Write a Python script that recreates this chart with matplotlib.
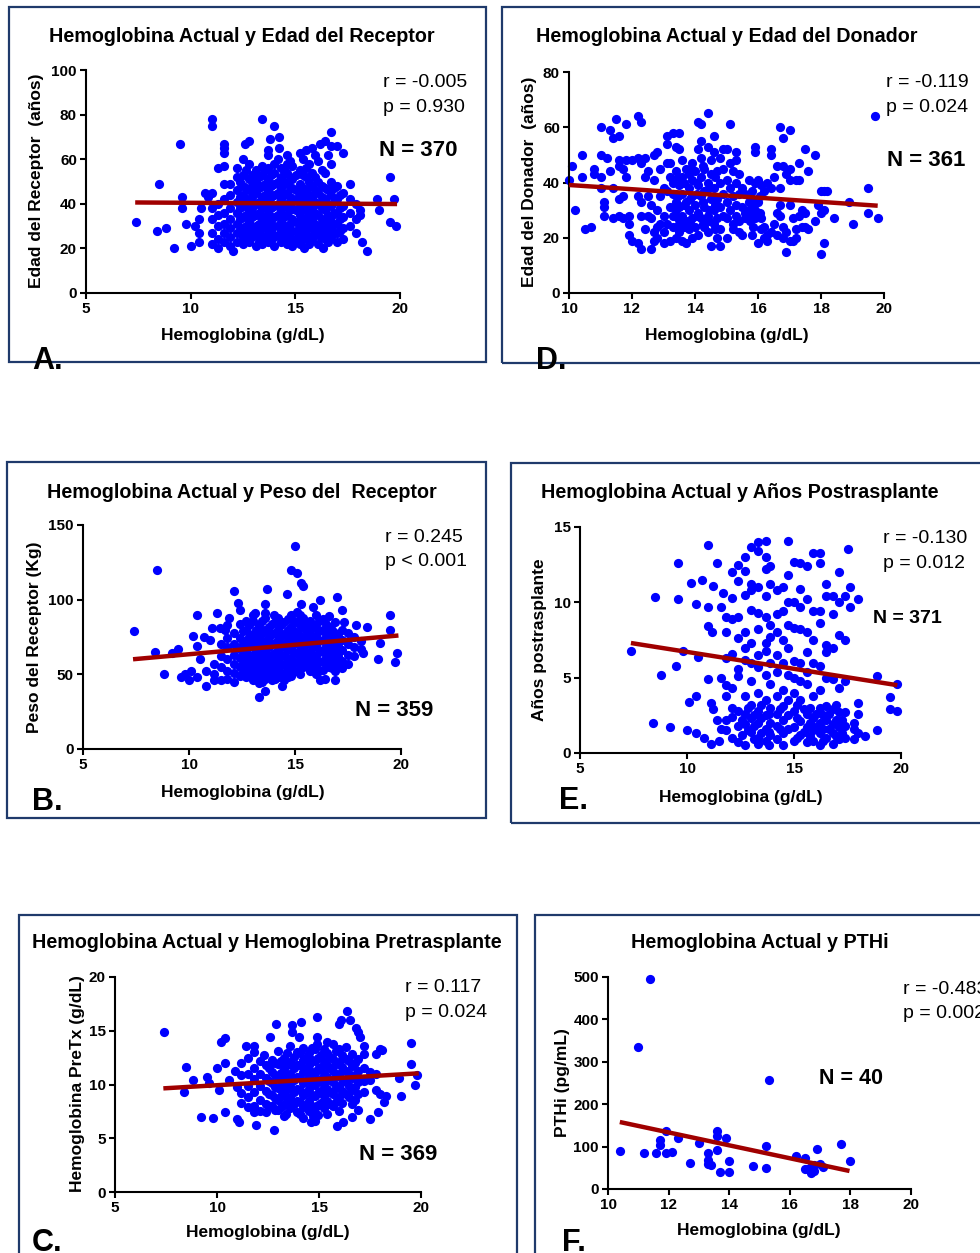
import matplotlib
matplotlib.use("Agg")
import matplotlib.pyplot as plt
from matplotlib.patches import Rectangle

# ---------------- DATA ----------------
# Panel A: Hemoglobina vs Edad del Receptor  (x: [y values])
edad_receptor_cols = {
    7.4: [32], 8.4: [28], 8.5: [49], 8.8: [29], 9.2: [20], 9.5: [67], 9.6: [43, 38],
    9.8: [31], 10.0: [21], 10.2: [30], 10.4: [33, 27, 23], 10.5: [38], 10.7: [45],
    10.85: [43], 11.0: [78, 75, 45, 38, 33, 27, 22], 11.3: [56, 40, 35, 30, 24, 20],
    11.6: [67, 65, 63, 57, 49, 42, 36, 31, 27, 23], 11.9: [49, 44, 38, 33, 29, 25, 21],
    12.0: [19], 12.2: [56, 52, 46, 41, 36, 31, 27, 23],
    12.5: [60, 53, 48, 44, 39, 34, 29, 25, 22], 12.6: [67],
    12.8: [68, 58, 51, 46, 42, 37, 32, 28, 23], 13.1: [55, 50, 45, 40, 35, 30, 26, 21],
    13.4: [78, 57, 53, 48, 43, 38, 33, 29, 25, 22],
    13.7: [64, 62, 56, 51, 46, 41, 36, 31, 27, 23], 13.8: [69],
    14.0: [75, 58, 54, 49, 44, 39, 34, 30, 25, 21], 14.2: [70, 65],
    14.3: [56, 52, 47, 42, 37, 32, 28, 23],
    14.6: [62, 58, 54, 49, 45, 40, 35, 30, 26, 22],
    14.85: [57, 51, 47, 42, 38, 33, 28, 24, 21],
    15.2: [63, 55, 49, 44, 40, 35, 30, 26, 22], 15.4: [20],
    15.5: [64, 56, 52, 46, 41, 37, 32, 27], 15.8: [65, 54, 48, 43, 38, 33, 29, 24],
    16.1: [59, 50, 45, 40, 35, 30, 26, 22], 16.2: [67], 16.3: [20],
    16.4: [68, 54, 47, 42, 37, 32, 28, 24], 16.7: [72, 66, 58, 50, 44, 39, 34, 29, 25],
    17.0: [66, 48, 42, 36, 31, 27, 23], 17.3: [63, 45, 39, 34, 29, 24],
    17.6: [49, 42, 36, 30], 17.9: [40, 33, 27], 18.1: [37, 35], 18.2: [23], 18.4: [19],
    18.9: [42], 19.0: [37], 19.5: [52, 32], 19.7: [42], 19.8: [30],
    # denser core
    12.35: [50, 43, 38, 33, 28], 12.65: [55, 47, 41, 35, 30, 26],
    12.95: [53, 48, 43, 38, 34, 29, 25], 13.25: [52, 47, 41, 36, 31, 27, 23],
    13.55: [55, 49, 44, 39, 34, 30, 25], 13.85: [53, 48, 43, 38, 33, 28, 24],
    14.15: [60, 50, 45, 40, 35, 30, 26], 14.45: [55, 50, 44, 39, 34, 29, 25],
    14.75: [59, 52, 43, 37, 31, 27, 23], 15.05: [53, 46, 42, 37, 32, 28, 24],
    15.35: [60, 53, 47, 43, 38, 33, 29, 24], 15.65: [58, 50, 44, 39, 35, 30, 25, 22],
    15.95: [62, 52, 46, 41, 36, 31, 27], 16.25: [55, 48, 43, 38, 33, 29, 25],
    16.55: [62, 46, 40, 35, 31, 27, 23], 16.85: [47, 41, 36, 31, 27],
    17.15: [44, 38, 33, 28],
}
fit_a_x = [7.35, 19.86]
fit_a_y = [40.6, 39.9]

# Panel D: Hemoglobina vs Edad del Donador
edad_donador_cols = {
    10.0: [41], 10.1: [46], 10.2: [30], 10.4: [50, 42], 10.5: [23], 10.7: [24],
    10.8: [45, 43], 11.0: [60, 50, 42, 38], 11.1: [28, 33, 31], 11.2: [49],
    11.3: [59, 44], 11.4: [56, 38, 27], 11.5: [63], 11.6: [57, 48, 46, 34, 28],
    11.7: [35, 27, 45], 11.8: [61, 48, 42], 11.9: [28, 25, 21], 12.0: [48, 19],
    12.2: [64, 49, 35, 18], 12.3: [62, 47, 28, 16, 33], 12.4: [49, 23, 42],
    12.5: [44, 35, 28], 12.6: [32, 16, 27], 12.7: [50, 41, 19, 22],
    12.8: [51, 20, 30, 24], 12.9: [45, 35, 25], 13.0: [28, 38, 22, 18],
    13.1: [54, 57, 37, 25, 47], 13.2: [47, 31, 42, 19], 13.3: [58, 40, 36, 24, 28],
    13.4: [53, 44, 30, 20, 33], 13.5: [58, 52, 39, 31, 25, 22],
    13.6: [48, 42, 36, 28, 19], 13.7: [45, 33, 26, 18], 13.8: [43, 38, 30, 23],
    13.9: [47, 41, 35, 27, 20], 14.0: [44, 32, 24], 14.1: [62, 52, 39, 29, 21],
    14.2: [61, 55, 49, 42, 35, 27], 14.3: [45, 37, 31, 24], 14.4: [65, 53, 40, 28, 22],
    14.5: [48, 43, 34, 17], 14.6: [57, 51, 38, 30, 25], 14.7: [44, 34, 27, 20],
    14.8: [49, 40, 31, 23, 17], 14.9: [52, 45, 36, 28], 15.0: [52, 41, 33, 27, 20],
    15.1: [61, 47, 38, 30], 15.2: [44, 35, 25, 23], 15.3: [51, 48, 40, 32, 28],
    15.4: [43, 36, 26, 22], 15.5: [38, 31, 21], 15.6: [36, 29, 27], 15.7: [41, 33, 30],
    15.8: [37, 34, 28, 21], 15.9: [53, 51, 40, 30, 27], 16.0: [41, 33, 18],
    16.1: [39, 27, 23], 16.2: [37, 24, 20], 16.3: [40, 21, 19], 16.4: [52, 50, 38, 22],
    16.5: [42, 25], 16.6: [46, 29, 21], 16.7: [60, 38, 32, 28], 16.8: [56, 46, 24, 20],
    16.9: [43, 22, 15], 17.0: [59, 45, 41, 19, 32], 17.1: [27, 19], 17.2: [41, 23, 20],
    17.3: [47, 41, 28], 17.4: [30, 24], 17.5: [52, 29, 24], 17.6: [44, 23],
    17.8: [50, 26], 17.9: [32], 18.0: [37, 29, 14], 18.1: [37, 30, 18], 18.2: [37],
    18.4: [27], 18.9: [33], 19.0: [25], 19.5: [38, 29], 19.7: [64], 19.8: [27],
    # denser clusters
    13.45: [42, 35, 27], 13.65: [40, 32, 24], 13.85: [45, 34, 26], 14.05: [40, 28, 36],
    14.25: [46, 33, 25], 14.45: [38, 30, 26], 14.65: [42, 32, 23], 15.75: [35, 26],
    15.85: [31, 24], 16.05: [35, 29],
}
fit_d_x = [10.0, 19.8]
fit_d_y = [39.1, 31.6]

# Panel B: Hemoglobina vs Peso del Receptor
peso_cols = {
    7.4: [79], 8.4: [65], 8.5: [120], 8.8: [50], 9.2: [64], 9.5: [67], 9.6: [48],
    9.8: [50], 10.0: [46], 10.1: [52], 10.2: [76], 10.4: [90, 69, 48], 10.5: [60],
    10.7: [75], 10.8: [52, 42], 11.0: [73], 11.1: [81], 11.2: [57, 50, 46], 11.3: [91],
    11.45: [81], 11.5: [70, 62, 55, 46], 11.7: [80], 11.8: [83, 74, 68, 60, 52, 47],
    11.9: [88], 12.1: [106, 78, 70, 63, 57, 51, 45], 12.3: [98],
    12.4: [93, 84, 74, 67, 61, 55, 49], 12.7: [86, 80, 72, 65, 59, 53, 48],
    13.0: [90, 86, 77, 70, 63, 57, 51, 46], 13.1: [91],
    13.3: [83, 75, 68, 61, 55, 49, 44, 35],
    13.6: [97, 91, 88, 80, 72, 65, 59, 53, 47, 39], 13.7: [107],
    13.9: [84, 77, 70, 63, 57, 51, 46], 14.0: [90], 14.2: [88, 80, 73, 66, 60, 54, 48],
    14.4: [42], 14.5: [85, 77, 70, 63, 57, 51, 46], 14.6: [104],
    14.8: [120, 90, 82, 75, 68, 61, 55, 49], 15.0: [136],
    15.1: [118, 92, 85, 78, 71, 64, 58, 52], 15.3: [111, 97],
    15.4: [109, 88, 81, 74, 67, 61, 55], 15.7: [86, 79, 72, 65, 58, 52],
    15.85: [95, 82, 75, 68, 61, 55],
    16.0: [90, 83, 76, 69, 62, 56, 50], 16.2: [100, 46], 16.3: [87, 80, 73, 66, 59, 53],
    16.4: [47], 16.6: [89, 82, 75, 68, 61, 55], 16.9: [85, 78, 71, 64, 58, 52, 46],
    17.0: [102], 17.2: [93, 80, 73, 66, 59, 54], 17.3: [85], 17.5: [78, 70, 63, 57],
    17.8: [75, 68, 62], 17.9: [83], 18.1: [72, 67], 18.2: [64], 18.4: [82], 18.9: [60],
    19.0: [71], 19.5: [90, 80], 19.7: [58], 19.8: [64],
    # denser core
    12.55: [79, 70, 63, 57, 51], 12.85: [83, 75, 68, 61, 55, 50],
    13.15: [80, 73, 66, 59, 53, 48], 13.45: [86, 78, 70, 63, 57, 51, 45],
    13.75: [82, 75, 68, 61, 55, 49], 14.05: [85, 78, 71, 64, 58, 52, 47],
    14.35: [83, 76, 68, 62, 56, 50], 14.65: [87, 80, 73, 66, 59, 53, 48],
    14.95: [86, 79, 72, 65, 58, 52], 15.25: [90, 83, 76, 69, 62, 56, 50],
    15.55: [84, 77, 70, 63, 57], 16.15: [86, 79, 72, 65, 58, 52],
    16.45: [84, 77, 70, 63, 57], 16.75: [80, 73, 66, 60, 54], 17.05: [76, 69, 62, 56],
}
fit_b_x = [7.36, 19.88]
fit_b_y = [60.1, 76.0]

# Panel E: Hemoglobina vs Años postrasplante
anos_cols = {
    7.4: [6.8], 8.4: [2.0], 8.5: [10.35], 8.8: [5.2], 9.2: [1.7], 9.5: [5.8],
    9.6: [12.6, 10.2], 9.8: [6.75], 10.0: [1.5], 10.1: [3.4], 10.2: [11.3],
    10.4: [9.9, 3.8, 1.3], 10.5: [6.4], 10.7: [11.5], 10.8: [1.0],
    11.0: [13.8, 9.7, 8.4, 4.9], 11.1: [3.3, 0.6], 11.15: [8.0], 11.2: [11.1, 2.9],
    11.4: [12.6, 2.2], 11.5: [0.8], 11.6: [9.7, 5.0, 1.6], 11.7: [10.6],
    11.8: [9.0, 8.0, 6.3, 4.5, 3.8, 2.2, 1.5],
    12.1: [12.0, 10.3, 8.9, 6.6, 4.3, 3.0, 2.4, 1.0],
    12.4: [12.5, 11.4, 9.0, 7.6, 5.6, 5.1, 2.8, 1.8, 0.7],
    12.7: [13.0, 12.1, 10.5, 8.0, 7.0, 6.2, 3.8, 2.6, 1.9, 0.5],
    13.0: [13.7, 11.2, 10.8, 9.5, 7.3, 6.0, 4.8, 3.2, 2.3, 1.4],
    13.3: [14.0, 13.4, 11.0, 9.3, 8.2, 6.5, 5.7, 4.0, 2.8, 2.0, 1.0, 0.6],
    13.7: [14.1, 13.0, 12.2, 10.4, 9.0, 7.3, 6.8, 5.2, 3.5, 2.5, 1.6, 0.8],
    13.9: [12.4, 11.2, 8.5, 7.7, 6.0, 4.6, 3.0, 2.0, 1.2],
    14.2: [10.8, 9.2, 8.0, 6.5, 5.4, 3.8, 2.6, 1.8, 0.9],
    14.5: [11.0, 9.4, 7.5, 6.0, 4.2, 3.1, 2.2, 1.3, 0.5],
    14.7: [14.1, 11.8, 10.0, 8.5, 7.0, 5.2, 3.5, 2.5, 1.6],
    15.0: [12.7, 10.0, 8.3, 6.1, 5.0, 4.0, 2.8, 1.7, 0.8],
    15.3: [12.6, 10.9, 9.7, 8.2, 6.0, 4.8, 3.5, 2.1, 1.2],
    15.6: [12.4, 10.2, 8.0, 6.7, 5.4, 4.6, 2.6, 1.7, 0.7],
    15.9: [13.3, 9.4, 7.5, 6.0, 3.8, 2.3, 1.5, 0.8],
    16.2: [13.3, 12.6, 9.4, 8.6, 5.8, 4.2, 3.0, 2.0, 1.3, 0.5],
    16.5: [11.2, 10.4, 7.2, 6.7, 5.0, 3.1, 2.2, 1.0],
    16.8: [10.4, 9.2, 7.0, 4.9, 2.9, 1.9, 1.3, 0.6],
    17.1: [12.0, 10.0, 7.8, 4.3, 2.7, 1.7, 0.9],
    17.4: [10.4, 7.5, 4.8, 2.7, 1.8, 1.0], 17.5: [13.55], 17.6: [11.0, 9.7],
    17.8: [2.0, 1.6, 0.9], 18.0: [10.2, 3.3, 2.6, 1.3], 18.3: [1.1], 18.9: [5.1, 1.5],
    19.5: [3.7, 2.9], 19.8: [4.6, 2.8],
    # denser bottom band
    12.55: [2.2, 1.2], 12.85: [3.0, 1.5], 13.15: [2.5, 1.8, 0.9], 13.45: [3.2, 2.3, 1.3],
    13.85: [2.6, 1.4, 0.5], 14.35: [2.9, 1.6], 15.15: [3.2, 2.3, 1.0], 15.45: [2.9, 1.4],
    15.75: [3.0, 2.0, 1.1], 16.05: [2.6, 1.7], 16.35: [2.5, 1.6, 0.8], 16.65: [2.6, 1.6],
    16.95: [3.2, 2.2, 1.1], 17.25: [2.2, 1.3],
}
fit_e_x = [7.38, 19.83]
fit_e_y = [7.3, 4.5]

# Panel C: Hemoglobina vs Hemoglobina PreTx
hb_pretx_cols = {
    7.4: [14.9], 8.4: [9.3], 8.5: [11.65], 8.8: [10.4], 9.2: [7.0], 9.5: [10.7],
    9.6: [10.1], 9.8: [6.9], 10.0: [11.5], 10.1: [9.5], 10.2: [14.0],
    10.4: [14.35, 12.0, 7.4], 10.6: [10.4], 10.9: [11.3], 11.0: [9.8, 6.8], 11.1: [6.5],
    11.2: [12.0, 10.9, 9.2, 8.3], 11.4: [13.6], 11.5: [12.5, 11.0, 9.9, 8.8, 7.9],
    11.8: [13.6, 13.0, 11.5, 10.5, 9.3, 8.0, 7.4], 11.9: [6.2],
    12.1: [12.2, 11.0, 9.9, 8.6, 7.5], 12.3: [12.7], 12.4: [11.8, 10.6, 9.4, 8.2, 7.4],
    12.6: [14.4], 12.7: [12.3, 11.2, 10.1, 9.0, 8.0], 12.8: [5.8], 12.9: [15.6],
    13.0: [13.1, 11.9, 10.8, 9.7, 8.6, 7.6], 13.3: [12.5, 11.4, 10.3, 9.2, 8.1, 7.1],
    13.4: [7.3], 13.6: [13.6, 12.1, 11.0, 9.9, 8.8, 7.8], 13.7: [15.5, 14.9],
    13.9: [13.0, 11.8, 10.7, 9.6, 8.5, 7.4], 14.0: [14.4], 14.1: [15.8],
    14.2: [13.4, 12.3, 11.2, 10.1, 9.0, 7.9, 6.9], 14.5: [12.9, 11.8, 10.7, 9.6, 8.5, 7.5],
    14.6: [6.5], 14.7: [7.1], 14.8: [13.3, 12.2, 11.1, 10.0, 8.9, 7.8, 6.6],
    14.9: [16.3, 14.4, 13.8], 15.1: [12.7, 11.6, 10.5, 9.4, 8.3],
    15.4: [14.0, 12.9, 11.8, 10.7, 9.6, 8.5, 7.3], 15.7: [13.8, 12.4, 11.3, 10.2, 9.1, 8.0],
    15.9: [6.1], 16.0: [15.6, 13.3, 12.1, 11.0, 9.9, 8.8, 7.5], 16.1: [16.0], 16.2: [6.5],
    16.3: [13.5, 12.4, 11.3, 10.2, 9.1], 16.35: [16.85], 16.5: [16.0],
    16.6: [12.8, 11.7, 10.6, 9.5, 8.2, 7.0], 16.8: [15.3],
    16.9: [14.9, 12.4, 11.3, 10.2, 9.1, 7.6], 17.0: [14.4],
    17.2: [13.6, 12.8, 11.5, 10.3, 9.3], 17.5: [11.2, 10.4, 6.8], 17.8: [12.8, 11.0, 9.5],
    17.9: [7.4], 18.0: [13.3, 9.1], 18.1: [13.2], 18.2: [8.4], 18.3: [8.9], 18.9: [10.6],
    19.0: [8.9], 19.5: [13.9, 11.9], 19.7: [10.0], 19.8: [10.9],
    # denser core
    12.55: [11.5, 10.3, 9.1, 8.0], 12.85: [12.0, 10.9, 9.8, 8.7, 7.6],
    13.15: [12.2, 11.1, 10.0, 8.9, 7.9], 13.45: [12.9, 11.8, 10.7, 9.6, 8.5],
    13.75: [12.6, 11.5, 10.4, 9.3, 8.2], 14.05: [12.9, 11.8, 10.6, 9.5, 8.4, 7.3],
    14.35: [12.5, 11.4, 10.3, 9.2, 8.1], 14.65: [13.4, 12.3, 11.2, 10.1, 9.0, 8.0],
    14.95: [12.5, 11.4, 10.3, 9.2, 8.1, 7.2], 15.25: [13.3, 12.2, 11.1, 10.0, 8.9, 7.8],
    15.55: [12.6, 11.5, 10.4, 9.3, 8.2], 15.85: [13.1, 11.9, 10.8, 9.7, 8.4],
    16.15: [12.7, 11.6, 10.5, 9.4, 8.3], 16.45: [12.2, 11.0, 9.9, 8.8],
    16.75: [12.0, 10.9, 9.8, 8.6],
}
fit_c_x = [7.37, 19.89]
fit_c_y = [9.64, 11.04]

# Panel F: Hemoglobina vs PTHi
pthi_cols = {
    10.4: [90], 11.0: [336], 11.2: [86], 11.4: [496], 11.6: [86], 11.7: [116, 103],
    11.9: [137, 86], 12.1: [87], 12.3: [120], 12.7: [62], 13.0: [109],
    13.3: [86, 68, 60], 13.4: [57], 13.6: [137, 125, 93], 13.7: [40], 13.9: [121],
    14.0: [66, 40], 14.8: [54], 15.2: [101, 50], 15.3: [256], 16.2: [79], 16.5: [73, 46],
    16.6: [48], 16.7: [52, 38], 16.8: [56, 42], 16.9: [95], 17.0: [58], 17.1: [52],
    17.7: [105], 18.0: [66],
}
fit_f_x = [10.39, 17.97]
fit_f_y = [158, 42.5]

titles = ["Hemoglobina Actual y Edad del Receptor", "Hemoglobina Actual y Edad del Donador",
          "Hemoglobina Actual y Peso del  Receptor", "Hemoglobina Actual y Años Postrasplante",
          "Hemoglobina Actual y Hemoglobina Pretrasplante", "Hemoglobina Actual y PTHi"]
ylabels = ["Edad del Receptor  (años)", "Edad del Donador  (años)", "Peso del Receptor (Kg)",
           "Años postrasplante", "Hemoglobina PreTx (g/dL)", "PTHi (pg/mL)"]
r_texts = ["r = -0.005", "r = -0.119", "r = 0.245", "r = -0.130", "r = 0.117", "r = -0.483"]
p_texts = ["p = 0.930", "p = 0.024", "p < 0.001", "p = 0.012", "p = 0.024", "p = 0.002"]
n_texts = ["N = 370", "N = 361", "N = 359", "N = 371", "N = 369", "N = 40"]
letters = ["A.", "D.", "B.", "E.", "C.", "F."]
xlabel = "Hemoglobina (g/dL)"


def flatten(cols):
    xs, ys = [], []
    for x, vals in cols.items():
        for v in vals:
            xs.append(x)
            ys.append(v)
    return xs, ys


# ---------------- LAYOUT ----------------
plt.rcParams['font.family'] = ['Liberation Sans', 'DejaVu Sans']
W, H = 980, 1253
fig = plt.figure(figsize=(W / 100, H / 100), dpi=100)
fig.patch.set_facecolor('white')

FRAME = '#1F3A6B'
BLUE = '#0000FF'
RED = '#A00000'


def fx(x):
    return x / W


def fy(y):
    return 1 - y / H


def ftext(x, y, s, **kw):
    fig.text(fx(x), fy(y), s, **kw)


panels = [
    dict(cols=edad_receptor_cols, fx=fit_a_x, fy=fit_a_y, ax=(86, 400, 70, 293),
         xlim=(5, 20), xt=[5, 10, 15, 20], ylim=(0, 100), yt=[0, 20, 40, 60, 80, 100],
         frame=(9, 7, 486, 362), title=(242, 37), ylab=(36, 181), xlab=(242.5, 336),
         rp=(383, 87, 111.5), n=(379, 156.5, 16), let=(32, 369)),
    dict(cols=edad_donador_cols, fx=fit_d_x, fy=fit_d_y, ax=(569, 884, 72, 293),
         xlim=(10, 20), xt=[10, 12, 14, 16, 18, 20], ylim=(0, 80), yt=[0, 20, 40, 60, 80],
         frame=(502, 7, 995, 363), title=(727, 37), ylab=(529, 182), xlab=(727, 336),
         rp=(886, 87, 111.5), n=(887, 166.5, 16), let=(536, 369)),
    dict(cols=peso_cols, fx=fit_b_x, fy=fit_b_y, ax=(83, 401, 525, 749),
         xlim=(5, 20), xt=[5, 10, 15, 20], ylim=(0, 150), yt=[0, 50, 100, 150],
         frame=(7, 462, 486, 818), title=(242, 493), ylab=(35, 637), xlab=(242.5, 792.5),
         rp=(385, 541.5, 566.5), n=(355, 716.5, 16), let=(32, 810)),
    dict(cols=anos_cols, fx=fit_e_x, fy=fit_e_y, ax=(580, 901, 527, 753),
         xlim=(5, 20), xt=[5, 10, 15, 20], ylim=(0, 15), yt=[0, 5, 10, 15],
         frame=(511, 463, 995, 823), title=(740, 493), ylab=(539, 640), xlab=(740.5, 797.5),
         rp=(883, 543, 568), n=(873, 623, 14), let=(559, 809)),
    dict(cols=hb_pretx_cols, fx=fit_c_x, fy=fit_c_y, ax=(115, 421, 977, 1192),
         xlim=(5, 20), xt=[5, 10, 15, 20], ylim=(0, 20), yt=[0, 5, 10, 15, 20],
         frame=(19, 915, 517, 1265), title=(267, 943), ylab=(77, 1084), xlab=(268, 1232.5),
         rp=(405, 992.5, 1017), n=(359, 1160, 16), let=(32, 1251)),
    dict(cols=pthi_cols, fx=fit_f_x, fy=fit_f_y, ax=(608, 911, 977, 1189),
         xlim=(10, 20), xt=[10, 12, 14, 16, 18, 20], ylim=(0, 500),
         yt=[0, 100, 200, 300, 400, 500],
         frame=(535, 915, 995, 1265), title=(760, 943), ylab=(562.5, 1083), xlab=(759, 1231),
         rp=(903, 994, 1018), n=(819, 1084, 15.5), let=(562, 1251)),
]

for i, p in enumerate(panels):
    x0, y0, x1, y1 = p['frame']
    fig.patches.append(Rectangle((fx(x0), fy(y1)), (x1 - x0) / W, (y1 - y0) / H,
                                 transform=fig.transFigure, fill=False,
                                 edgecolor=FRAME, linewidth=1.6, zorder=0))
    ax0, ax1, aytop, aybot = p['ax']
    ax = fig.add_axes([fx(ax0), fy(aybot), (ax1 - ax0) / W, (aybot - aytop) / H])
    ax.patch.set_alpha(0)
    xs, ys = flatten(p['cols'])
    ax.scatter(xs, ys, s=44, color=BLUE, linewidths=0, zorder=2, clip_on=False)
    ax.plot(p['fx'], p['fy'], color=RED, linewidth=3.2, solid_capstyle='butt',
            zorder=3, clip_on=False)
    ax.set_xlim(*p['xlim'])
    ax.set_ylim(*p['ylim'])
    ax.set_xticks(p['xt'])
    ax.set_yticks(p['yt'])
    for s in ['top', 'right']:
        ax.spines[s].set_visible(False)
    for s in ['left', 'bottom']:
        ax.spines[s].set_linewidth(1.5)
        ax.spines[s].set_color('black')
    ax.tick_params(direction='out', length=4, width=1.5, labelsize=11, pad=2.5,
                   colors='black')
    for lab in ax.get_xticklabels() + ax.get_yticklabels():
        lab.set_fontweight('bold')

    ftext(*p['title'], titles[i], ha='center', va='center', fontsize=14.2,
          fontweight='bold')
    ftext(*p['ylab'], ylabels[i], ha='center', va='center', rotation=90,
          fontsize=12.5, fontweight='bold')
    ftext(*p['xlab'], xlabel, ha='center', va='center', fontsize=12.5,
          fontweight='bold')
    rx, ry, py = p['rp']
    ftext(rx, ry, r_texts[i], ha='left', va='baseline', fontsize=14)
    ftext(rx, py, p_texts[i], ha='left', va='baseline', fontsize=14)
    nx, ny, nsize = p['n']
    ftext(nx, ny, n_texts[i], ha='left', va='baseline', fontsize=nsize,
          fontweight='bold')
    lx, ly = p['let']
    ftext(lx, ly, letters[i], ha='left', va='baseline', fontsize=22,
          fontweight='bold', zorder=5)

fig.savefig('out.png', dpi=100)
